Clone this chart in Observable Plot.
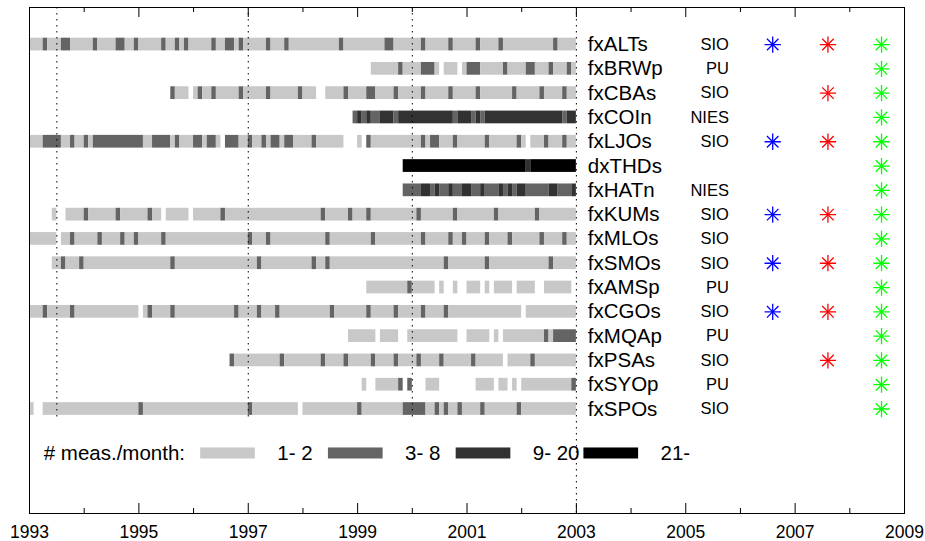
<!DOCTYPE html>
<html><head><meta charset="utf-8">
<script src="https://cdn.jsdelivr.net/npm/d3@7"></script>
<script src="https://cdn.jsdelivr.net/npm/@observablehq/plot@0.6"></script>
<style>body{margin:0;background:#fff;} #chart svg{display:block}</style>
</head><body><div id="chart"></div>
<script>
// Stations (top to bottom) and their labs
const stations = ["fxALTs","fxBRWp","fxCBAs","fxCOIn","fxLJOs","dxTHDs","fxHATn","fxKUMs","fxMLOs","fxSMOs","fxAMSp","fxCGOs","fxMQAp","fxPSAs","fxSYOp","fxSPOs"];
const labs = ["SIO","PU","SIO","NIES","SIO","","NIES","SIO","SIO","SIO","PU","SIO","PU","SIO","PU","SIO"];
const blueStations = ["fxALTs","fxLJOs","fxKUMs","fxSMOs","fxCGOs"];
const redStations = ["fxALTs","fxCBAs","fxLJOs","fxKUMs","fxSMOs","fxCGOs","fxPSAs"];
const greenStations = stations;

// Monthly class per station, one string per year 1993..2002 (Jan..Dec)
// 0 = no data, 1 = 1-2, 2 = 3-8, 3 = 9-20, 4 = 21+ measurements/month
const fxALTs = ["111211122111","112111122112","111112112121","111121122121","111121112111","111111112111","111111221111","112111112111","112111121111","111111121111"];
const fxBRWp = ["000000000000","000000000000","000000000000","000000000000","000000000000","000000000000","000111111211","112221011101","222111112111","122111211121"];
const fxCBAs = ["000000000000","000000000000","000000021110","121121111121","111121111112","111001111211","112211112111","112111112111","112111111121","111121111211"];
const fxCOIn = ["000000000000","000000000000","000000000000","000000000000","000000000000","000000000002","323223332333","333333333233","323233333333","333333333233"];
const fxLJOs = ["111222211211","212222222222","211222212111","221221022211","211212212211","112111111000","102111111111","112122111211","111121111112","101112111211"];
const dxTHDs = ["000000000000","000000000000","000000000000","000000000000","000000000000","000000000000","000000000044","444444444444","444444444444","434444444444"];
const fxHATn = ["000000000000","000000000000","000000000000","000000000000","000000000000","000000000000","000000000022","223323223223","322322232323","322222332223"];
const fxKUMs = ["000001001111","211111121111","112110111110","111111211111","111111111111","111121111121","112111111111","121111111211","111111211111","111211111111"];
const fxMLOs = ["111111011211","111211112112","111112111111","111111111111","211121111111","111112111111","111211111111","112111112112","111121111211","111121111211"];
const fxSMOs = ["000001121112","111111111111","111111121111","111111111111","112111111111","112112111111","111111111111","111111121111","111121111111","111111211111"];
const fxAMSp = ["000000000000","000000000000","000000000000","000000000000","000000000000","000000000000","001111111112","111110100100","111010111101","111001111110"];
const fxCGOs = ["111211111211","111111111111","012111121111","111111111211","112111211111","111111211111","112111112111","112111121111","111111111111","011111111111"];
const fxMQAp = ["000000000000","000000000000","000000000000","000000000000","000000000000","000000000011","111101111001","111111111100","111110101111","111112122222"];
const fxPSAs = ["000000000000","000000000000","000000000000","000000002111","111111121111","111121111211","111211112111","121111211111","121111110111","112111111111"];
const fxSYOp = ["000000000000","000000000000","000000000000","000000000000","000000000000","000000000000","010011111202","000111000000","001111011010","111111111112"];
const fxSPOs = ["100111111111","111111111111","211111111111","111111111111","211111111110","111111111111","211111111122","222112121121","111211111112","111111111111"];
const monthly = [fxALTs,fxBRWp,fxCBAs,fxCOIn,fxLJOs,dxTHDs,fxHATn,fxKUMs,fxMLOs,fxSMOs,fxAMSp,fxCGOs,fxMQAp,fxPSAs,fxSYOp,fxSPOs];
const firstYear = 1993;

// Legend
const legendTitle = "# meas./month:";
const legendLabels = ["1- 2","3- 8","9- 20","21-"];
const legendCodes = [1,2,3,4];
const classColors = ["none","#c8c8c8","#646464","#323232","#000000"];

// Axis ticks
const majorYears = [1993,1995,1997,1999,2001,2003,2005,2007,2009];
const minorYears = [1994,1996,1998,2000,2002,2004,2006,2008];
const dottedShort = [1993.5,1997,2000];
const dottedLong = [2003];

// ---- layout ----
const W = 925, H = 541, mT = 7, mB = 28, mL = 29, mR = 21;
const yTop = -1.525, yBot = 19.3;
const pxRow = (H - mT - mB) / (yBot - yTop);
const tMaj = 10 / pxRow, tMin = 5 / pxRow;
const barHalf = 0.262;
const nameX = 2003.21, labX = 2005.79, starX = [2006.59, 2007.60, 2008.58];
const legY = 16.83, legX0 = 1996.13, legStep = 2.336, legW = 1.0;

const runs = [];
monthly.forEach((yrs, i) => {
  const s = yrs.map(y => (y + "000000000000").slice(0, 12)).join("");
  let m = 0;
  while (m < s.length) {
    const c = s[m]; let e = m;
    while (e < s.length && s[e] === c) e++;
    if (c !== "0") runs.push({row: i, code: +c, x1: firstYear + m / 12, x2: firstYear + e / 12});
    m = e;
  }
});
const rowOf = n => stations.indexOf(n);
const starSets = [[blueStations, "#0000ff"], [redStations, "#ff0000"], [greenStations, "#00ff00"]];
const stars = [];
starSets.forEach(([list, col], k) => list.forEach(n => stars.push({x: starX[k], row: rowOf(n), col})));
const legend = legendCodes.map((c, k) => ({code: c, label: legendLabels[k], x1: legX0 + k * legStep, x2: legX0 + k * legStep + legW}));

const plot = Plot.plot({
  width: W, height: H,
  marginTop: mT, marginBottom: mB, marginLeft: mL, marginRight: mR,
  x: {domain: [1993, 2009], axis: null},
  y: {domain: [yTop, yBot], reverse: true, axis: null},
  color: {type: "identity"},
  style: {fontFamily: "'Liberation Sans', Arial, sans-serif", background: "white", color: "black"},
  marks: [
    Plot.rect(runs, {x1: "x1", x2: "x2", y1: d => d.row - barHalf, y2: d => d.row + barHalf, fill: d => classColors[d.code]}),
    Plot.ruleX(dottedShort, {y1: yTop, y2: 15.5, stroke: "black", strokeWidth: 1, strokeDasharray: "1.5,4.5"}),
    Plot.ruleX(dottedLong, {y1: yTop, y2: yBot, stroke: "black", strokeWidth: 1, strokeDasharray: "1.5,4.5"}),
    Plot.text(stations, {x: () => nameX, y: (d, i) => i, text: d => d, textAnchor: "start", fontSize: 20.5}),
    Plot.text(labs, {x: () => labX, y: (d, i) => i, text: d => d, textAnchor: "end", fontSize: 16.5}),
    Plot.dot(stars, {x: "x", y: "row", symbol: "plus", r: 5.3, stroke: "col", strokeWidth: 1.3}),
    Plot.dot(stars, {x: "x", y: "row", symbol: "times", r: 5.3, stroke: "col", strokeWidth: 1.3}),
    Plot.text([legendTitle], {x: () => 1993.26, y: () => legY, text: d => d, textAnchor: "start", fontSize: 20.5}),
    Plot.rect(legend, {x1: "x1", x2: "x2", y1: () => legY - 0.227, y2: () => legY + 0.227, fill: d => classColors[d.code]}),
    Plot.text(legend, {x: d => d.x2 + 0.4, y: () => legY, text: "label", textAnchor: "start", fontSize: 20.5}),
    Plot.ruleX(majorYears, {y1: yBot, y2: yBot - tMaj, stroke: "black"}),
    Plot.ruleX(minorYears, {y1: yBot, y2: yBot - tMin, stroke: "black"}),
    Plot.ruleX(majorYears, {y1: yTop, y2: yTop + tMaj, stroke: "black"}),
    Plot.ruleX(minorYears, {y1: yTop, y2: yTop + tMin, stroke: "black"}),
    Plot.frame({stroke: "black", strokeWidth: 1}),
    Plot.axisX(majorYears, {anchor: "bottom", tickSize: 0, tickPadding: 12, fontSize: 17.5, label: null, tickFormat: d => String(d)})
  ]
});
document.getElementById("chart").appendChild(plot);
</script>
</body></html>
